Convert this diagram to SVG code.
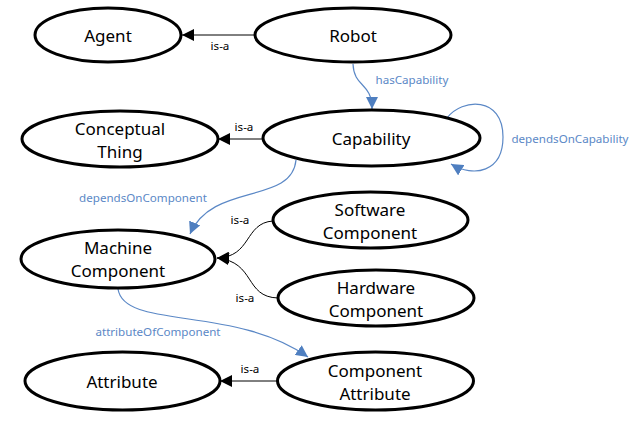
<svg xmlns="http://www.w3.org/2000/svg" width="633" height="434" viewBox="0 0 633 434">
<style>
.node ellipse{fill:#fff;stroke:#000;stroke-width:3}
.node text{font-family:"Noto Sans","Open Sans",sans-serif;font-size:17px;fill:#000;text-anchor:middle}
.isa{fill:none;stroke:#000;stroke-width:1}
.rel{fill:none;stroke:#5b88c6;stroke-width:1.2}
.lbl{font-family:"Noto Sans","Open Sans",sans-serif;font-size:11.6px;text-anchor:middle}
.lk{fill:#000}
.lb{fill:#5b88c6}
</style>
<defs>
<marker id="ab" markerUnits="userSpaceOnUse" markerWidth="12" markerHeight="12" refX="10" refY="5" orient="auto" viewBox="0 0 10 10">
<path d="M0,0 L10,5 L0,10 Z" fill="#000"/>
</marker>
<marker id="au" markerUnits="userSpaceOnUse" markerWidth="12" markerHeight="12" refX="11" refY="5.5" orient="auto" viewBox="0 0 11 11">
<path d="M0,0 L11,5.5 L0,11 Z" fill="#4f7fc0"/>
</marker>
</defs>
<g id="connectors">
<path class="isa" d="M255,35 L182,35" marker-end="url(#ab)"/>
<text class="lbl lk" x="220" y="50">is-a</text>
<path class="rel" d="M353,64 C354,88 372,82 372,109" marker-end="url(#au)"/>
<text class="lbl lk lb" x="412" y="84">hasCapability</text>
<path class="isa" d="M263,139 L218,139" marker-end="url(#ab)"/>
<text class="lbl lk" x="244" y="131">is-a</text>
<path class="rel" d="M447,118 C462,98 503,96 503,137 C503,172 474,178 451,164" marker-end="url(#au)"/>
<text class="lbl lb" x="570" y="143">dependsOnCapability</text>
<path class="rel" d="M296,160 C292,205 212,182 190,234" marker-end="url(#au)"/>
<text class="lbl lb" x="143" y="202">dependsOnComponent</text>
<path class="isa" d="M273,221 C244,223 252,257 217,258" marker-end="url(#ab)"/>
<text class="lbl lk" x="240" y="224">is-a</text>
<path class="isa" d="M278,298 C244,297 256,262 217,258" marker-end="url(#ab)"/>
<text class="lbl lk" x="245" y="302">is-a</text>
<path class="rel" d="M118,289 C124,330 235,305 308,357" marker-end="url(#au)"/>
<text class="lbl lb" x="158" y="336">attributeOfComponent</text>
<path class="isa" d="M278,381 L220,381" marker-end="url(#ab)"/>
<text class="lbl lk" x="250" y="373">is-a</text>
</g>
<g id="agent" class="node"><ellipse cx="108" cy="35" rx="73" ry="27"/><text x="108" y="42">Agent</text></g>
<g id="robot" class="node"><ellipse cx="353" cy="35" rx="98" ry="27"/><text x="353" y="42">Robot</text></g>
<g id="conceptual-thing" class="node"><ellipse cx="120" cy="139" rx="98" ry="28"/><text x="120" y="135">Conceptual</text><text x="120" y="158">Thing</text></g>
<g id="capability" class="node"><ellipse cx="371.5" cy="138" rx="108.5" ry="28"/><text x="371" y="145">Capability</text></g>
<g id="software-component" class="node"><ellipse cx="370.5" cy="220" rx="97.5" ry="28"/><text x="370" y="216">Software</text><text x="370" y="239">Component</text></g>
<g id="machine-component" class="node"><ellipse cx="118" cy="259" rx="97" ry="29"/><text x="118" y="254">Machine</text><text x="118" y="277">Component</text></g>
<g id="hardware-component" class="node"><ellipse cx="376" cy="298" rx="98" ry="28"/><text x="376" y="294">Hardware</text><text x="376" y="317">Component</text></g>
<g id="attribute" class="node"><ellipse cx="122.5" cy="381" rx="97.5" ry="29"/><text x="122" y="388">Attribute</text></g>
<g id="component-attribute" class="node"><ellipse cx="375.5" cy="381" rx="98" ry="29"/><text x="375" y="377">Component</text><text x="375" y="400">Attribute</text></g>
</svg>
